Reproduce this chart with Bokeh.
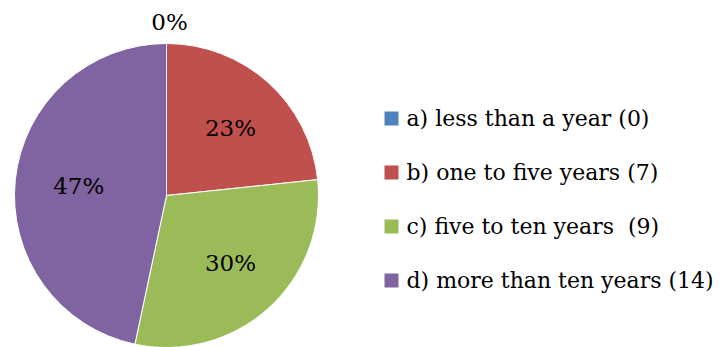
import math
from bokeh.plotting import figure
from bokeh.models import Range1d, ColumnDataSource
from bokeh.core.properties import value
from bokeh.embed import file_html
from bokeh.resources import INLINE

categories = ["a) less than a year (0)", "b) one to five years (7)",
              "c) five to ten years \u00a0(9)", "d) more than ten years (14)"]
counts = [0, 7, 9, 14]
colors = ["#4F81BD", "#C0504D", "#9BBB59", "#8064A2"]

W, H = 727, 347
cx, cy, R = 166, H - 195, 152

total = sum(counts)
starts, ends, mids, pct = [], [], [], []
cum = 0
for c in counts:
    a0 = math.pi / 2 - cum / total * 2 * math.pi
    cum += c
    a1 = math.pi / 2 - cum / total * 2 * math.pi
    starts.append(a0); ends.append(a1); mids.append((a0 + a1) / 2)
    pct.append(f"{round(c / total * 100)}%")

p = figure(width=W, height=H, output_backend="svg", toolbar_location=None,
           x_range=Range1d(0, W), y_range=Range1d(0, H), min_border=0)
p.axis.visible = False
p.grid.visible = False
p.outline_line_color = None

idx = [i for i, c in enumerate(counts) if c > 0]
ws = ColumnDataSource(dict(start=[starts[i] for i in idx], end=[ends[i] for i in idx],
                           color=[colors[i] for i in idx]))
p.wedge(x=cx, y=cy, radius=R, start_angle="start", end_angle="end", direction="clock",
        fill_color="color", line_color="white", line_width=1, source=ws)

lx, ly = [], []
for i, c in enumerate(counts):
    r = 0.6 * R if c > 0 else 1.14 * R
    lx.append(cx + 3 + r * math.cos(mids[i]))
    ly.append(cy + r * math.sin(mids[i]))
p.text(x=lx, y=ly, text=pct, text_align="center", text_baseline="middle",
       text_font=value("DejaVu Serif"), text_font_size="23px", text_color="black")

# legend
rows_y = [H - 118 - 54 * i for i in range(len(categories))]
p.rect(x=[391] * 4, y=rows_y, width=14, height=14, fill_color=colors, line_color=None)
p.text(x=[406] * 4, y=rows_y, text=categories, text_align="left", text_baseline="middle",
       text_font=value("DejaVu Serif"), text_font_size="22px", text_color="black")

open("out.html", "w").write(file_html(p, INLINE))
